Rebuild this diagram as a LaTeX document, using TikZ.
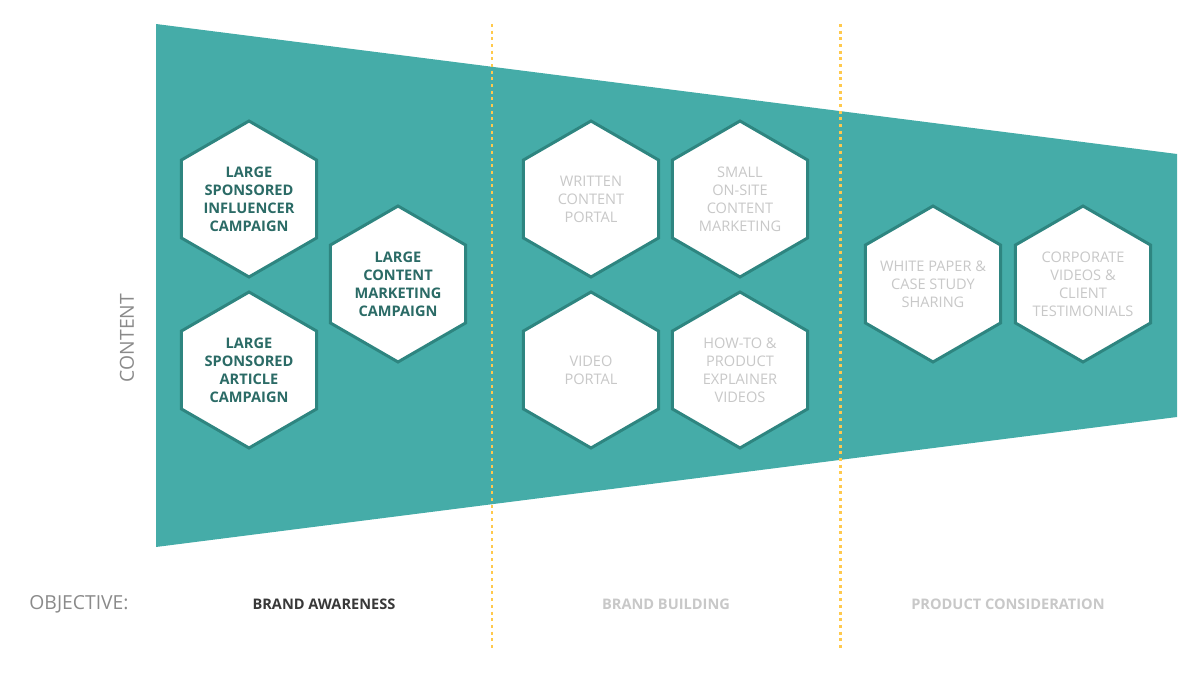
\documentclass[tikz,border=0pt]{standalone}
\usepackage{fontspec}
\setmainfont{Open Sans}
\usetikzlibrary{shapes.geometric}
\definecolor{funnel}{HTML}{45ACA8}
\definecolor{hexline}{HTML}{2E8580}
\definecolor{hextext}{HTML}{2B6B66}
\definecolor{faded}{HTML}{C8C8C8}
\definecolor{label}{HTML}{8A8A8A}
\definecolor{dots}{HTML}{FFC94D}
\begin{document}
\begin{tikzpicture}[x=0.02cm, y=-0.02cm,
	hex/.style={regular polygon, regular polygon sides=6, shape border rotate=30, draw=hexline, line width=1.7pt, fill=white, minimum size=3.12cm, inner sep=-14pt, align=center, font=\fontsize{8.3}{10.2}\selectfont},
	strong/.style={hex, text=hextext, font=\fontsize{8.3}{10.2}\selectfont\bfseries},
	weak/.style={hex, text=faded},
	divider/.style={dots, line width=1.7pt, dash pattern=on 1.7pt off 2.1pt}]
	\useasboundingbox (0,0) rectangle (1200,675);
	
	\fill[funnel] (156,24) -- (1177,154) -- (1177,417) -- (156,547) -- cycle;
	\draw[divider] (492,24) -- (492,651) coordinate (split a);
	\draw[divider] (840,24) -- (840,651) coordinate (split b);
	
	\node[strong] (influencer) at (249,199) {LARGE\\SPONSORED\\INFLUENCER\\CAMPAIGN};
	\node[strong] (article) at (249,370) {LARGE\\SPONSORED\\ARTICLE\\CAMPAIGN};
	\node[strong] (marketing) at (398,284) {LARGE\\CONTENT\\MARKETING\\CAMPAIGN};
	
	\node[weak] (written) at (591,199) {WRITTEN\\CONTENT\\PORTAL};
	\node[weak] (onsite) at (740,199) {SMALL\\ON-SITE\\CONTENT\\MARKETING};
	\node[weak] (video) at (591,370) {VIDEO\\PORTAL};
	\node[weak] (explainer) at (740,370) {HOW-TO \&\\PRODUCT\\EXPLAINER\\VIDEOS};
	
	\node[weak] (paper) at (933,284) {WHITE PAPER \&\\CASE STUDY\\SHARING};
	\node[weak] (corporate) at (1083,284) {CORPORATE\\VIDEOS \&\\CLIENT\\TESTIMONIALS};
	
	\node[rotate=90, text=label, font=\fontsize{11}{13}\selectfont] (content) at (127,338) {CONTENT};
	\node[text=label, font=\fontsize{11}{13}\selectfont] (objective) at (79,604) {OBJECTIVE:};
	\node[text=black!78, font=\fontsize{8.3}{10}\selectfont\bfseries] (awareness) at (324,604) {BRAND AWARENESS};
	\node[text=faded, font=\fontsize{8.3}{10}\selectfont\bfseries] (building) at (666,604) {BRAND BUILDING};
	\node[text=faded, font=\fontsize{8.3}{10}\selectfont\bfseries] (consideration) at (1008,604) {PRODUCT CONSIDERATION};
	
\end{tikzpicture}
\end{document}
